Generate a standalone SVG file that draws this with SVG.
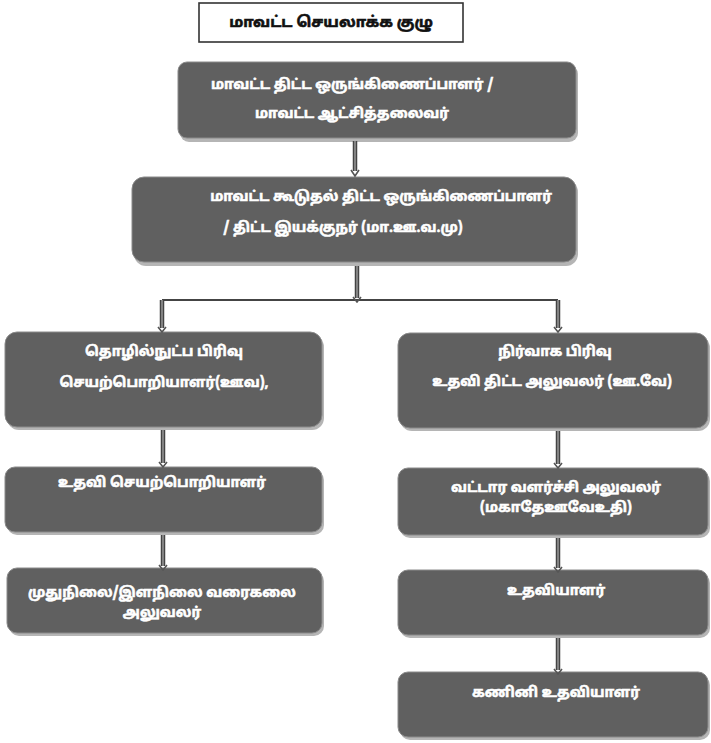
<svg xmlns="http://www.w3.org/2000/svg" width="711" height="743" viewBox="0 0 711 743">
<defs>
<style>
.box{fill:#606060;stroke:#8a8a8a;stroke-width:1}
.sh{fill:#b5b5b5}
.t{font-family:"Noto Sans Tamil","Noto Sans","DejaVu Sans",sans-serif;font-weight:bold;font-size:14px;fill:#ffffff;stroke:#ffffff;stroke-width:0.55;text-anchor:middle;dominant-baseline:central}
.tt{font-family:"Noto Sans Tamil","Noto Sans","DejaVu Sans",sans-serif;font-weight:bold;font-size:15px;fill:#111;stroke:#111;stroke-width:0.6;text-anchor:middle;dominant-baseline:central}
.sh2{stroke:#444;stroke-width:4.5;fill:none}
.sh3{stroke:#8a8a8a;stroke-width:1.8;fill:none}
.hd{fill:none;stroke:#555;stroke-width:1.6}
</style>
</defs>
<rect width="711" height="743" fill="#ffffff"/>
<g id="title">
<rect x="199" y="3" width="264" height="39" fill="#fff" stroke="#333" stroke-width="1.6"/>
<text class="tt" x="331" y="23">மாவட்ட செயலாக்க குழு</text>
</g>
<g id="n1">
<rect class="sh" x="180" y="65" width="398" height="77" rx="9"/>
<rect class="box" x="178" y="62" width="398" height="76" rx="9"/>
<text class="t" x="352" y="85">மாவட்ட திட்ட ஒருங்கிணைப்பாளர் /</text>
<text class="t" x="352" y="114">மாவட்ட ஆட்சித்தலைவர்</text>
</g>
<g id="n2">
<rect class="sh" x="134" y="180" width="444" height="86" rx="12"/>
<rect class="box" x="132" y="177" width="444" height="85" rx="12"/>
<text class="t" x="381" y="197">மாவட்ட கூடுதல் திட்ட ஒருங்கிணைப்பாளர்</text>
<text class="t" x="343" y="228">/ திட்ட இயக்குநர் (மா.ஊ.வ.மு)</text>
</g>
<g id="n3">
<rect class="sh" x="7" y="335" width="317" height="95" rx="12"/>
<rect class="box" x="5" y="332" width="317" height="95" rx="12"/>
<text class="t" x="164" y="352">தொழில்நுட்ப பிரிவு</text>
<text class="t" x="164" y="383">செயற்பொறியாளர்(ஊவ),</text>
</g>
<g id="n4">
<rect class="sh" x="400" y="336" width="310" height="95" rx="12"/>
<rect class="box" x="398" y="333" width="310" height="95" rx="12"/>
<text class="t" x="555" y="352">நிர்வாக பிரிவு</text>
<text class="t" x="552" y="382">உதவி திட்ட அலுவலர் (ஊ.வே)</text>
</g>
<g id="n5">
<rect class="sh" x="7" y="470" width="317" height="65" rx="10"/>
<rect class="box" x="5" y="467" width="317" height="65" rx="10"/>
<text class="t" x="162" y="483">உதவி செயற்பொறியாளர்</text>
</g>
<g id="n6">
<rect class="sh" x="9" y="571" width="315" height="65" rx="10"/>
<rect class="box" x="7" y="568" width="315" height="65" rx="10"/>
<text class="t" x="162" y="593">முதுநிலை/இளநிலை வரைகலை</text>
<text class="t" x="162" y="613">அலுவலர்</text>
</g>
<g id="n7">
<rect class="sh" x="400" y="471" width="310" height="67" rx="10"/>
<rect class="box" x="398" y="468" width="310" height="67" rx="10"/>
<text class="t" x="556" y="488">வட்டார வளர்ச்சி அலுவலர்</text>
<text class="t" x="556" y="508">(மகாதேஊவேஉதி)</text>
</g>
<g id="n8">
<rect class="sh" x="400" y="573" width="310" height="65" rx="10"/>
<rect class="box" x="398" y="570" width="310" height="65" rx="10"/>
<text class="t" x="556" y="591">உதவியாளர்</text>
</g>
<g id="n9">
<rect class="sh" x="400" y="675" width="310" height="65" rx="10"/>
<rect class="box" x="398" y="672" width="310" height="65" rx="10"/>
<text class="t" x="556" y="693">கணினி உதவியாளர்</text>
</g>
<g id="connectors">
<path class="sh2" d="M355 141V171 M357 266V298 M163 430V463 M163 535V566 M558 431V464 M558 538V568 M558 638V670"/>
<path class="sh3" d="M355 141V171 M357 266V298 M163 430V463 M163 535V566 M558 431V464 M558 538V568 M558 638V670"/>
<path d="M162 300H558" stroke="#444" stroke-width="2" fill="none"/>
<path class="sh2" d="M162 300V328 M558 300V328"/>
<path class="sh3" d="M162 300V328 M558 300V328"/>
<path class="hd" d="M351 170L355 176L359 170 M353 297L357 302L361 297 M158 327L162 332L166 327 M554 327L558 332L562 327 M159 462L163 467L167 462 M159 565L163 570L167 565 M554 463L558 468L562 463 M554 567L558 572L562 567 M554 669L558 674L562 669"/>
</g>
</svg>
